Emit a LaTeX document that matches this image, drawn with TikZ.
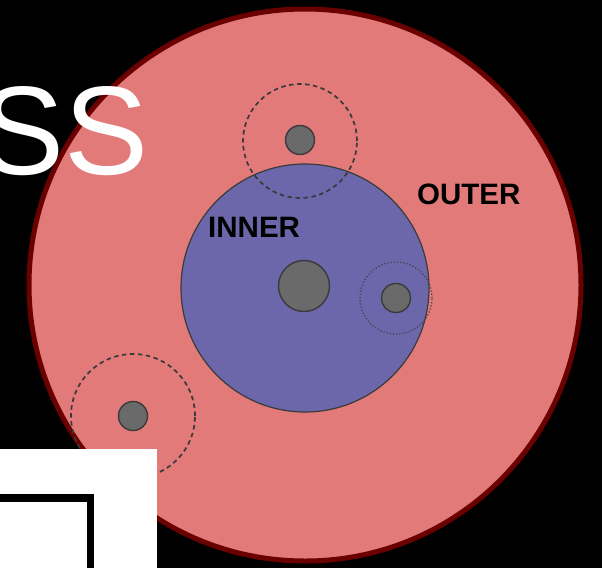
\documentclass[tikz,border=0pt]{standalone}
\usepackage{fontspec}
\setmainfont{Liberation Sans}
\definecolor{outerfill}{HTML}{E27A7A}
\definecolor{outerline}{HTML}{6B0000}
\definecolor{innerfill}{HTML}{6B67AA}
\definecolor{dotfill}{HTML}{6A6A6A}
\definecolor{edgegray}{HTML}{3A3A3A}
\tikzset{
  disc/.style={circle, inner sep=0pt, draw=edgegray, line width=1.4pt, fill=dotfill},
  orbit/.style={circle, inner sep=0pt, draw=edgegray, line width=1.7pt, dash pattern=on 4.5pt off 3.5pt},
  orbitdot/.style={circle, inner sep=0pt, draw=edgegray!80!innerfill, line width=1.3pt, dash pattern=on 1.2pt off 2pt},
  lbl/.style={font=\fontsize{29.5}{29.5}\selectfont\bfseries, text=black, inner sep=0pt}
}
\begin{document}
\begin{tikzpicture}[x=1pt,y=-1pt]
\fill[black] (0,0) rectangle (602,568);
\useasboundingbox (0,0) rectangle (602,568);
% outer circle
\node[circle, inner sep=0pt, minimum size=552pt, fill=outerfill, draw=outerline, line width=5pt] (outer) at (305,285) {};
% SS title
\node[anchor=base east, inner sep=0pt, text=white, font=\fontsize{126}{126}\selectfont] (title) at (149,174) {SS};
% inner circle
\node[circle, inner sep=0pt, minimum size=248pt, fill=innerfill, draw=edgegray, line width=1.2pt] (inner) at (305,288) {};
% orbits
\node[orbit, minimum size=114pt] (orbA) at (300,141) {};
\node[orbitdot, minimum size=72pt] (orbB) at (396,298) {};
\node[orbit, minimum size=124pt] (orbC) at (133,416) {};
% discs
\node[disc, minimum size=51pt] (core) at (304,286) {};
\node[disc, minimum size=29pt] (dA) at (300,140) {};
\node[disc, minimum size=29pt] (dB) at (396,298) {};
\node[disc, minimum size=29pt] (dC) at (133,416) {};
% labels
\node[lbl, anchor=base west] (innerlbl) at (208,237) {INNER};
\node[lbl, anchor=base west] (outerlbl) at (417,204) {OUTER};
% white box with frame
\fill[white] (0,449) rectangle (157,568);
\coordinate (fa) at (0,498);
\coordinate (fb) at (90.5,498);
\coordinate (fc) at (90.5,568);
\draw[black, line width=7.5pt] (fa) -- (fb) -- (fc);
\end{tikzpicture}
\end{document}
